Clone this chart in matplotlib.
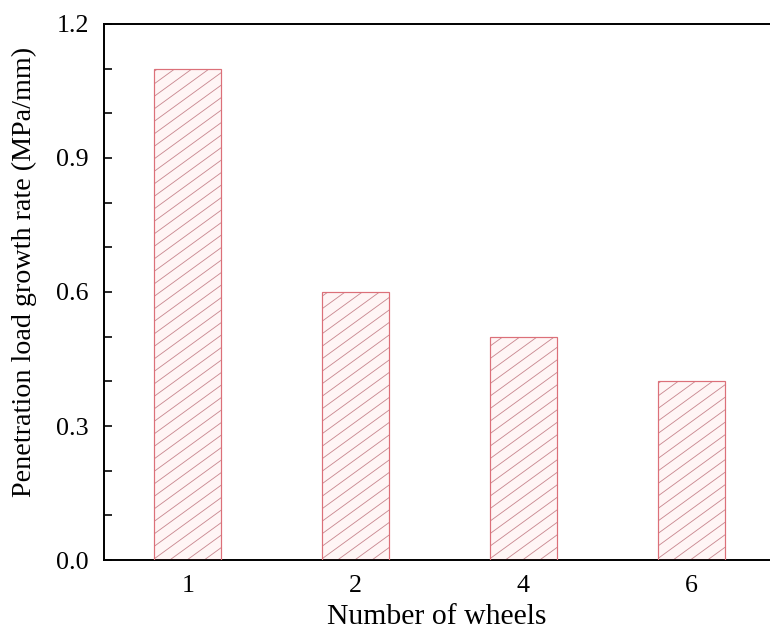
import numpy as np
import matplotlib
matplotlib.use("Agg")
import matplotlib.pyplot as plt
from matplotlib.lines import Line2D
from matplotlib.transforms import IdentityTransform
from matplotlib.ticker import MultipleLocator, FormatStrFormatter

categories = ["1", "2", "4", "6"]
growth_rate = [1.1, 0.6, 0.5, 0.4]

DPI = 78
plt.rcParams["font.family"] = ["Liberation Serif", "DejaVu Serif"]

fig = plt.figure(figsize=(770 / DPI, 631 / DPI), dpi=DPI)
ax = fig.add_axes([0.135, 0.1125, 0.865, 0.8495])

x = range(len(categories))
bar_fill = ax.bar(x, growth_rate, width=0.4, facecolor="#fff5f5",
                  edgecolor="none", zorder=1)
ax.bar(x, growth_rate, width=0.4, fill=False, edgecolor="#dc7079",
       linewidth=1.1, zorder=3)

ax.set_xlim(-0.5, 3.47)
ax.set_ylim(0, 1.2)
ax.set_xticks(list(x))
ax.set_xticklabels(categories)
ax.yaxis.set_major_locator(MultipleLocator(0.3))
ax.yaxis.set_minor_locator(MultipleLocator(0.1))
ax.yaxis.set_major_formatter(FormatStrFormatter("%.1f"))

for side in ("left", "bottom", "top"):
    ax.spines[side].set_linewidth(1.8)
ax.spines["right"].set_visible(False)

ax.tick_params(axis="y", which="both", direction="in", length=7, width=1.5,
               labelsize=24, pad=14)
ax.tick_params(axis="x", which="both", length=0, labelsize=24, pad=14)

ax.set_xlabel("Number of wheels", fontsize=27.5, labelpad=6)
ax.set_ylabel("Penetration load growth rate (MPa/mm)", fontsize=26)
ax.yaxis.set_label_coords(-0.1, 0.537)

# diagonal hatching inside each bar, laid out in pixel space
fig.canvas.draw()
slope = np.tan(np.radians(36))
step = 12.5
for rect in bar_fill:
    bb = rect.get_window_extent()
    w = bb.x1 - bb.x0
    for c in np.arange(bb.y0 - slope * w, bb.y1 + step, step):
        ln = Line2D([bb.x0, bb.x1], [c, c + slope * w],
                    transform=IdentityTransform(), color="#c98890",
                    linewidth=0.8, zorder=2)
        ax.add_artist(ln)
        ln.set_clip_path(rect)

fig.savefig("out.png", dpi=DPI)
